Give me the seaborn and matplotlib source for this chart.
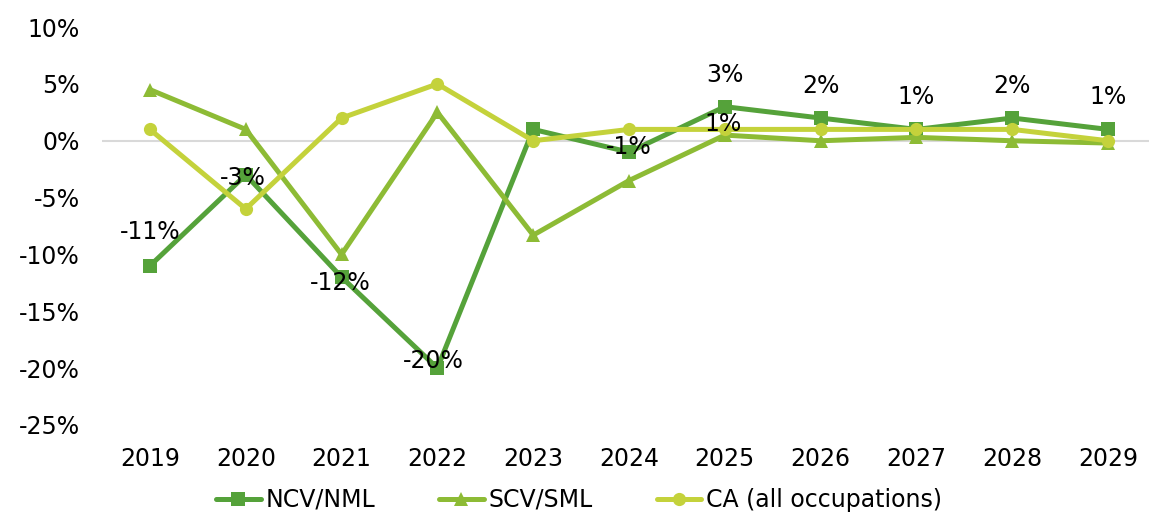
import matplotlib
matplotlib.use('Agg')
import matplotlib.pyplot as plt
import pandas as pd
import seaborn as sns

years = [2019, 2020, 2021, 2022, 2023, 2024, 2025, 2026, 2027, 2028, 2029]
ncv_nml = [-11, -3, -12, -20, 1, -1, 3, 2, 1, 2, 1]
scv_sml = [4.5, 1, -10, 2.5, -8.3, -3.5, 0.5, 0, 0.3, 0, -0.2]
ca_all = [1, -6, 2, 5, 0, 1, 1, 1, 1, 1, 0]

series_names = ['NCV/NML', 'SCV/SML', 'CA (all occupations)']
colors = ['#55a23a', '#8dbb35', '#c4d23b']
markers = ['s', '^', 'o']

# label offsets (points) for the NCV/NML data labels
label_offsets = [(0, 24), (-2, -2), (-1, -4), (-3, 5), None, (0, 4), (0, 23), (0, 23), (0, 23), (0, 23), (0, 23)]

df = pd.DataFrame({
    'pos': list(range(len(years))) * 3,
    'value': ncv_nml + scv_sml + ca_all,
    'series': [s for s in series_names for _ in years],
})

sns.set_style('white')
plt.rcParams['font.family'] = ['DejaVu Sans']
fs = 17

fig = plt.figure(figsize=(11.49, 5.17), dpi=100)
ax = fig.add_axes([0.0888, 0.178, 0.9173, 0.7696])

ax.axhline(0, color='#d9d9d9', lw=1.5, zorder=0)

sns.lineplot(data=df, x='pos', y='value', hue='series', style='series',
             hue_order=series_names, style_order=series_names,
             palette=dict(zip(series_names, colors)),
             markers=dict(zip(series_names, markers)), dashes=False,
             linewidth=3.6, markersize=9.5, markeredgewidth=0, ax=ax)

for i, (v, off) in enumerate(zip(ncv_nml, label_offsets)):
    if off is None:
        continue
    ax.annotate(f'{v:.0f}%', (i, v), xytext=off, textcoords='offset points',
                ha='center', va='center', fontsize=fs, color='black', zorder=5)
# the lone "1%" label sitting on the CA 2025 point
ax.annotate(f'{ca_all[6]:.0f}%', (6, ca_all[6]), xytext=(-1, 4), textcoords='offset points',
            ha='center', va='center', fontsize=fs, color='black', zorder=5)

ax.set_xlim(-0.5, 10.5)
ax.set_ylim(-25, 10)
ax.set_yticks(range(-25, 11, 5))
ax.set_yticklabels([f'{t}%' for t in range(-25, 11, 5)])
ax.set_xticks(range(len(years)))
ax.set_xticklabels([str(y) for y in years])
ax.tick_params(axis='both', length=0, labelsize=fs, colors='black')
ax.tick_params(axis='y', pad=16)
ax.tick_params(axis='x', pad=16)
ax.set_xlabel('')
ax.set_ylabel('')
for s in ax.spines.values():
    s.set_visible(False)

handles, labels = ax.get_legend_handles_labels()
ax.legend(handles, labels, loc='center', bbox_to_anchor=(0.504, 0.033),
          bbox_transform=fig.transFigure, ncol=3, frameon=False, fontsize=fs,
          labelcolor='black', handlelength=1.9, handletextpad=0.2, columnspacing=2.7)

fig.savefig('out.png', dpi=100)
